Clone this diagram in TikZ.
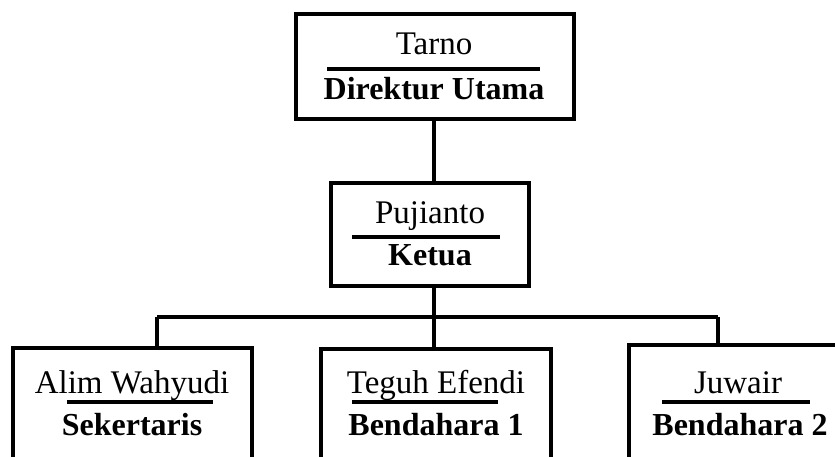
\documentclass[tikz,border=0pt]{standalone}
\usepackage{fontspec}
\setmainfont{Liberation Serif}
\begin{document}
\begin{tikzpicture}[x=1pt,y=-1pt,
  box/.style={draw,line width=3.6pt,rectangle,inner sep=0pt},
  txt/.style={anchor=base,inner sep=0pt,font=\fontsize{33}{39}\selectfont},
  btxt/.style={txt,font=\fontsize{32}{38}\selectfont\bfseries},
  rule/.style={line width=3.2pt},
  conn/.style={line width=3.6pt}]
\useasboundingbox (0,0) rectangle (835,457);
\clip (0,0) rectangle (835,457);
% boxes
\node[box,minimum width=278pt,minimum height=105pt] (top) at (435,66.5) {};
\node[box,minimum width=198pt,minimum height=103pt] (ketua) at (430,234.5) {};
\node[box,minimum width=239pt,minimum height=140pt] (alim) at (132.5,418) {};
\node[box,minimum width=230pt,minimum height=140pt] (teguh) at (436,419) {};
\node[box,minimum width=222pt,minimum height=140pt] (juwair) at (740,415) {};
% texts
\node[txt] (t1) at (434,55) {Tarno};
\node[btxt] (t2) at (434,100) {Direktur Utama};
\draw[rule] (327,69) -- (540,69);
\node[txt] (k1) at (430,223) {Pujianto};
\node[btxt] (k2) at (430,265) {Ketua};
\draw[rule] (352,237) -- (500,237);
\node[txt] (a1) at (132,393) {Alim Wahyudi};
\node[btxt] (a2) at (132,435) {Sekertaris};
\draw[rule] (67,402) -- (213,402);
\node[txt] (g1) at (436,393) {Teguh Efendi};
\node[btxt] (g2) at (436,435) {Bendahara 1};
\draw[rule] (352,402) -- (498,402);
\node[txt] (j1) at (738,393) {Juwair};
\node[btxt] (j2) at (740,435) {Bendahara 2};
\draw[rule] (662,402) -- (810,402);
% connectors
\coordinate (hl) at (157,317);
\coordinate (hm) at (434,317);
\coordinate (hr) at (718,317);
\draw[conn] (top.south -| hm) -- (ketua.north -| hm);
\draw[conn] (ketua.south -| hm) -- (teguh.north -| hm);
\draw[conn] (hl) -- (hr);
\draw[conn] (hl) -- (alim.north -| hl);
\draw[conn] (hr) -- (juwair.north -| hr);
\end{tikzpicture}
\end{document}
